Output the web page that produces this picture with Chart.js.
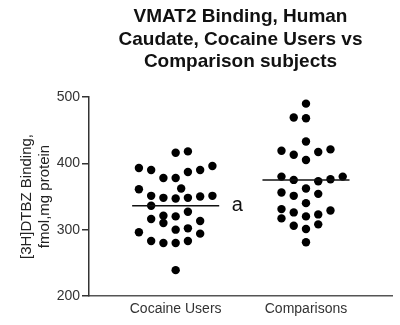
<!DOCTYPE html>
<html>
<head>
<meta charset="utf-8">
<script src="https://cdn.jsdelivr.net/npm/chart.js@4"></script>
<style>
  html, body { margin: 0; padding: 0; background: #fff; }
  canvas { display: block; }
</style>
</head>
<body>
<canvas id="chart" width="400" height="325"></canvas>
<script>
const groups = ['Cocaine Users', 'Comparisons'];

// binding per subject, with the swarm column each dot sits in
const cocaineValues = [416, 418, 393, 390, 378, 378, 387, 390, 396, 361, 362, 351, 348, 347, 348, 350, 351,
  336, 316, 321, 310, 320, 327, 313, 296, 300, 302, 294, 283, 280, 280, 283, 239];
const cocaineCols = [0, 1, -3, -2, -1, 0, 1, 2, 3, -3, 0.45, -2, -1, 0, 1, 2, 3,
  -2, -2, -1, -1, 0, 1, 2, -3, 0, 1, 2, -2, -1, 0, 1, 0];

const comparisonValues = [490, 469, 468, 433, 419, 413, 405, 417, 421, 380, 375, 373, 376, 380, 362,
  356, 351, 354, 340, 331, 326, 320, 323, 329, 317, 306, 301, 308, 281];
const comparisonCols = [0, -1, 0, 0, -2, -1, 0, 1, 2, -2, -1, 1, 2, 3, 0,
  -2, -1, 1, 0, -2, -1, 0, 1, 2, -2, -1, 0, 1, 0];

const groupMeans = [336, 375];
const yTicks = [200, 300, 400, 500];

const titleLines = ['VMAT2 Binding, Human', 'Caudate, Cocaine Users vs', 'Comparison subjects'];
const yTitle = ['[3H]DTBZ Binding,', 'fmol,mg protein'];
const meanNote = 'a';

const FONT = '"Liberation Sans", Arial, sans-serif';
const COL_STEP = 0.094;   // gap between swarm columns, in x units
const MEAN_HALF = 0.334;  // half length of the mean bar

function swarm(pos, values, cols) {
  return values.map((v, i) => ({ x: pos + cols[i] * COL_STEP, y: v }));
}

const dots = [
  swarm(1, cocaineValues, cocaineCols),
  swarm(2, comparisonValues, comparisonCols)
].map(data => ({
  data,
  pointRadius: 4.2,
  pointBackgroundColor: '#000',
  pointBorderWidth: 0,
  showLine: false
}));

const meanBars = groupMeans.map((m, i) => ({
  data: [{ x: i + 1 - MEAN_HALF, y: m }, { x: i + 1 + MEAN_HALF, y: m }],
  borderColor: '#111',
  borderWidth: 1.5,
  pointRadius: 0,
  showLine: true
}));

// title centred over the plot, plus the "a" mark by the first mean
const annotations = {
  id: 'annotations',
  afterDraw(chart) {
    const { ctx, chartArea } = chart;
    const cx = (chartArea.left + chartArea.right) / 2;
    ctx.save();
    ctx.fillStyle = '#111';
    ctx.font = 'bold 19px ' + FONT;
    ctx.textAlign = 'center';
    ctx.textBaseline = 'middle';
    titleLines.forEach((t, i) => ctx.fillText(t, cx, 17 + i * 22.5));

    const xs = chart.scales.x, ys = chart.scales.y;
    ctx.font = '20px ' + FONT;
    ctx.textAlign = 'left';
    ctx.textBaseline = 'alphabetic';
    ctx.fillText(meanNote, xs.getPixelForValue(1.43), ys.getPixelForValue(groupMeans[0]) + 5);
    ctx.restore();
  }
};

new Chart(document.getElementById('chart'), {
  type: 'scatter',
  data: { datasets: [...meanBars, ...dots] },
  options: {
    responsive: false,
    animation: false,
    layout: { padding: { top: 97, right: 8, left: 0, bottom: 0 } },
    plugins: { legend: { display: false }, tooltip: { enabled: false } },
    scales: {
      x: {
        type: 'linear',
        min: 0.335,
        max: 2.66,
        afterBuildTicks: s => { s.ticks = groups.map((g, i) => ({ value: i + 1 })); },
        afterFit: s => { s.height = 29; },
        ticks: {
          callback: (v, i) => groups[i],
          font: { family: FONT, size: 14 },
          color: '#333',
          padding: 5,
          maxRotation: 0
        },
        grid: { drawOnChartArea: false, drawTicks: false },
        border: { color: '#555', width: 1.5 }
      },
      y: {
        min: 200,
        max: 500,
        afterBuildTicks: s => { s.ticks = yTicks.map(v => ({ value: v })); },
        afterFit: s => { s.width = 89; },
        ticks: { font: { family: FONT, size: 14 }, color: '#333', padding: 2 },
        grid: { drawOnChartArea: false, tickLength: 7, color: '#333', lineWidth: 1.5 },
        border: { color: '#333', width: 1.5 },
        title: {
          display: true,
          text: yTitle,
          font: { family: FONT, size: 15 },
          color: '#222',
          padding: { top: 18, bottom: 0 }
        }
      }
    }
  },
  plugins: [annotations]
});
</script>
</body>
</html>
